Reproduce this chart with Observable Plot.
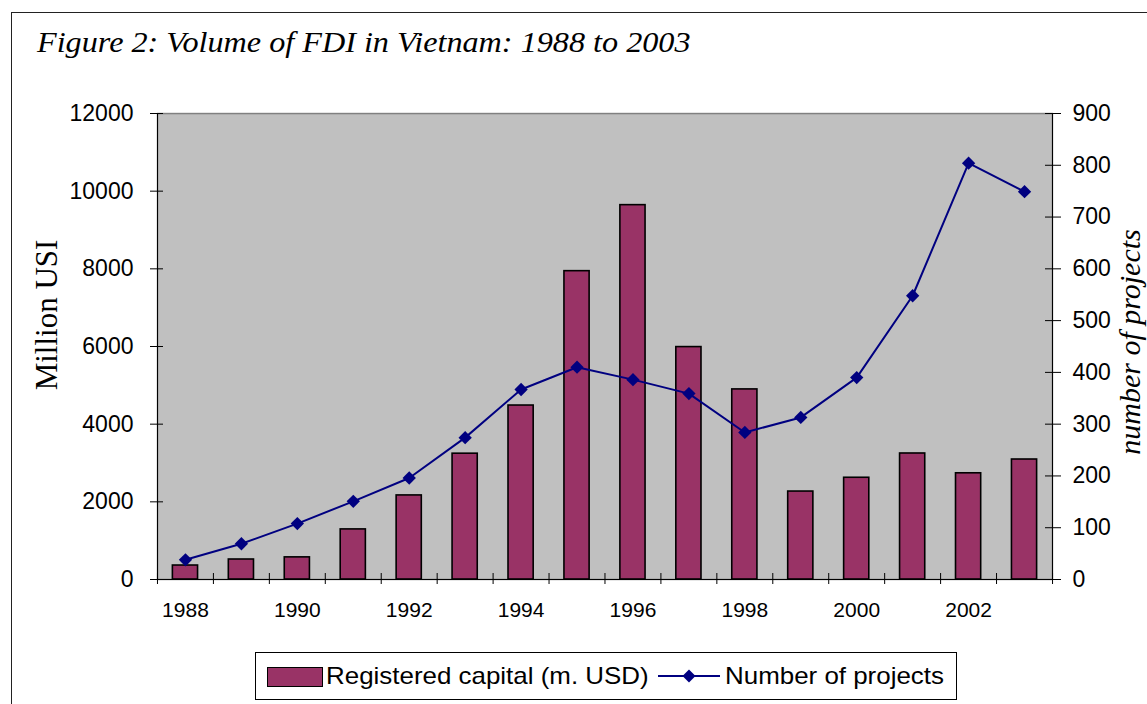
<!DOCTYPE html>
<html>
<head>
<meta charset="utf-8">
<script src="https://cdn.jsdelivr.net/npm/d3@7"></script>
<script src="https://cdn.jsdelivr.net/npm/@observablehq/plot@0.6"></script>
<style>
  html, body { margin: 0; padding: 0; background: #fff; }
  #wrap { position: relative; width: 1147px; height: 704px; overflow: hidden; }
  #outer { position: absolute; left: 11px; top: 12px; width: 1200px; height: 800px; border: 1.5px solid #222; box-sizing: border-box; }
  #title { position: absolute; left: 37px; top: 25px; font-family: "Liberation Serif", "Times New Roman", serif; font-style: italic; font-size: 29px; line-height: 1.2; color: #000; white-space: nowrap; transform: scaleX(1.11); transform-origin: 0 50%; }
  #chart { position: absolute; left: 0; top: 0; }
  .ylab { position: absolute; white-space: nowrap; line-height: 1; font-family: "Liberation Serif", "Times New Roman", serif; color: #000; transform: translate(-50%, -50%) rotate(-90deg); }
  #ylabL { left: 46px; top: 315px; font-size: 31px; }
  #ylabR { left: 1130px; top: 342px; font-size: 30px; font-style: italic; }
  #legend { position: absolute; left: 255px; top: 652px; width: 702px; height: 48px; border: 1px solid #000; box-sizing: border-box; font-family: "Liberation Sans", Arial, sans-serif; font-size: 24px; color: #000; }
  #legend .item { position: absolute; top: 0; height: 46px; display: flex; align-items: center; white-space: nowrap; }
  #legend .txt { display: inline-block; transform: scaleX(1.08); transform-origin: 0 50%; }
  #sw { position: absolute; left: 11px; top: 14px; width: 56px; height: 20px; background: #993366; border: 1.5px solid #000; box-sizing: border-box; }
</style>
</head>
<body>
<div id="wrap">
  <div id="outer"></div>
  <div id="chart"></div>
  <div id="title">Figure 2: Volume of FDI in Vietnam: 1988 to 2003</div>
  <div class="ylab" id="ylabL">Million USI</div>
  <div class="ylab" id="ylabR">number of projects</div>
  <div id="legend"></div>
</div>
<script>
// ---- data ----
const years = ["1988","1989","1990","1991","1992","1993","1994","1995","1996","1997","1998","1999","2000","2001","2002","2003"];
const capital = [360, 515, 570, 1290, 2165, 3240, 4480, 7940, 9640, 5985, 4895, 2265, 2620, 3245, 2735, 3090];
const projects = [38, 69, 108, 151, 196, 274, 367, 410, 386, 359, 284, 313, 390, 548, 804, 749];
const leftTicks = [0, 2000, 4000, 6000, 8000, 10000, 12000];
const rightTicks = [0, 100, 200, 300, 400, 500, 600, 700, 800, 900];
const labelYears = ["1988","1990","1992","1994","1996","1998","2000","2002"];
const seriesNames = ["Registered capital (m. USD)", "Number of projects"];

const barColor = "#993366";
const lineColor = "#000080";
const ratio = 12000 / 900; // right axis (projects) mapped onto left axis

const data = years.map((y, i) => ({year: y, capital: capital[i], projects: projects[i]}));

const chart = Plot.plot({
  width: 1147,
  height: 640,
  marginTop: 113,
  marginBottom: 61,
  marginLeft: 157,
  marginRight: 95,
  style: {background: "transparent", fontFamily: "'Liberation Sans', Arial, sans-serif", color: "#000"},
  x: {type: "band", domain: years, paddingInner: 0.55, paddingOuter: 0.275, align: 0.5, round: false, axis: null},
  y: {domain: [0, 12000], axis: null},
  marks: [
    Plot.frame({fill: "#C0C0C0", stroke: "#000", strokeWidth: 1.2}),
    Plot.ruleY([12000], {stroke: "#808080", strokeWidth: 1.2}),
    Plot.barY(data, {x: "year", y: "capital", fill: barColor, stroke: "#000", strokeWidth: 1.6}),
    Plot.line(data, {x: "year", y: d => d.projects * ratio, stroke: lineColor, strokeWidth: 2}),
    Plot.dot(data, {x: "year", y: d => d.projects * ratio, symbol: "diamond2", r: 6, fill: lineColor, stroke: null}),
    // x tick marks at category boundaries
    Plot.axisX({ticks: years, tickSize: 11, dy: -6, dx: -28, tickFormat: () => "", label: null, stroke: "#000"}),
    Plot.axisX({ticks: [years[years.length - 1]], tickSize: 11, dy: -6, dx: 28, tickFormat: () => "", label: null, stroke: "#000"}),
    // x labels
    Plot.axisX({ticks: labelYears, tickSize: 0, tickPadding: 23, fontSize: 21, label: null}),
    // left axis
    Plot.axisY({anchor: "left", ticks: leftTicks, tickSize: 13, dx: 6, tickPadding: 17, fontSize: 23, label: null, tickFormat: d => String(d)}),
    // right axis
    Plot.axisY({anchor: "right", ticks: rightTicks.map(v => v * ratio), tickSize: 16, dx: -8, tickPadding: 12, fontSize: 23, label: null, tickFormat: d => String(Math.round(d / ratio))})
  ]
});
document.getElementById("chart").appendChild(chart);

// legend
const legend = document.getElementById("legend");
const sw = document.createElement("span");
sw.id = "sw";
legend.appendChild(sw);

const item1 = document.createElement("div");
item1.className = "item";
item1.style.left = "70px";
item1.innerHTML = '<span class="txt"></span>';
item1.firstChild.textContent = seriesNames[0];
legend.appendChild(item1);

const item2 = document.createElement("div");
item2.className = "item";
item2.style.left = "402px";
item2.innerHTML = '<svg width="62" height="20" style="margin-right:5px"><line x1="0" y1="10" x2="62" y2="10" stroke="' + lineColor + '" stroke-width="2"/><path d="M31,3.5L37.5,10L31,16.5L24.5,10Z" fill="' + lineColor + '"/></svg><span class="txt"></span>';
item2.lastChild.textContent = seriesNames[1];
legend.appendChild(item2);
</script>
</body>
</html>
